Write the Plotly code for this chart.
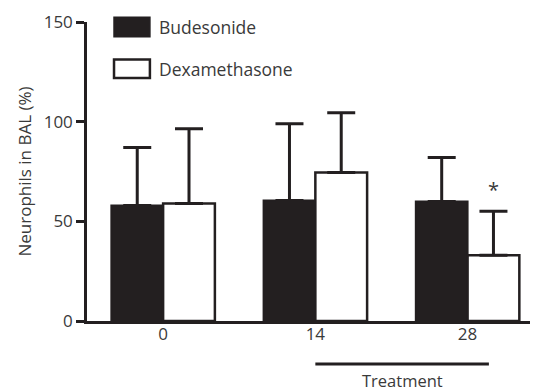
import plotly.graph_objects as go

categories = ["0", "14", "28"]
budesonide = [58, 60.5, 60]
budesonide_err = [29, 38.5, 22]
dexamethasone = [59, 74.5, 33]
dexamethasone_err = [37.5, 30, 22]
y_ticks = [0, 50, 100, 150]

FONT = "Open Sans"
TXT = "#3a3a3a"

fig = go.Figure()
fig.add_trace(go.Bar(
    x=categories, y=budesonide, name="Budesonide",
    marker=dict(color="#231f20", line=dict(color="#231f20", width=2)),
    error_y=dict(type="data", array=budesonide_err, arrayminus=[0]*3,
                 symmetric=False, color="#231f20", thickness=3, width=14),
))
fig.add_trace(go.Bar(
    x=categories, y=dexamethasone, name="Dexamethasone",
    marker=dict(color="white", line=dict(color="#231f20", width=2.5)),
    error_y=dict(type="data", array=dexamethasone_err, arrayminus=[0]*3,
                 symmetric=False, color="#231f20", thickness=3, width=14),
))

fig.update_layout(
    width=540, height=392,
    margin=dict(l=87, r=10, t=16, b=71),
    paper_bgcolor="white", plot_bgcolor="white",
    barmode="group", bargap=0.32, bargroupgap=0,
    showlegend=False,
    font=dict(family=FONT, size=17, color=TXT),
    xaxis=dict(
        range=[-0.5, 2.41], showline=True, linecolor="#231f20", linewidth=2.5,
        ticks="", showgrid=False, zeroline=False, tickfont=dict(size=17),
        ticklabelstandoff=-4,
    ),
    yaxis=dict(
        range=[0, 150], tickvals=y_ticks, showline=True, linecolor="#231f20",
        linewidth=2.5, ticks="outside", ticklen=8, tickwidth=2.5,
        tickcolor="#231f20", showgrid=False, zeroline=False,
        tickfont=dict(size=17),
        title=dict(text="Neurophils in BAL (%)", font=dict(size=17), standoff=8),
    ),
)

# custom legend
fig.add_shape(type="rect", xref="paper", yref="paper",
              x0=0.061, x1=0.142, y0=0.951, y1=1.016,
              fillcolor="#231f20", line=dict(color="#231f20", width=1.5))
fig.add_shape(type="rect", xref="paper", yref="paper",
              x0=0.061, x1=0.142, y0=0.813, y1=0.875,
              fillcolor="white", line=dict(color="#231f20", width=2.5))
fig.add_annotation(text="Budesonide", xref="paper", yref="paper",
                   x=0.158, y=0.984, xanchor="left", yanchor="middle",
                   showarrow=False, font=dict(size=17.5, color=TXT))
fig.add_annotation(text="Dexamethasone", xref="paper", yref="paper",
                   x=0.158, y=0.843, xanchor="left", yanchor="middle",
                   showarrow=False, font=dict(size=17.5, color=TXT))

# significance asterisk above day 28 dexamethasone
fig.add_annotation(text="*", x=2.17, y=dexamethasone[2] + dexamethasone_err[2],
                   xref="x", yref="y", yanchor="bottom", yshift=6,
                   showarrow=False, font=dict(size=20, color=TXT))

# treatment bar
fig.add_shape(type="line", xref="x", yref="paper",
              x0=1.0, x1=2.14, y0=-0.144, y1=-0.144,
              line=dict(color="#231f20", width=3))
fig.add_annotation(text="Treatment", xref="x", yref="paper",
                   x=1.57, y=-0.20, yanchor="middle", showarrow=False,
                   font=dict(size=16.5, color=TXT))

fig.write_html("out.html")
